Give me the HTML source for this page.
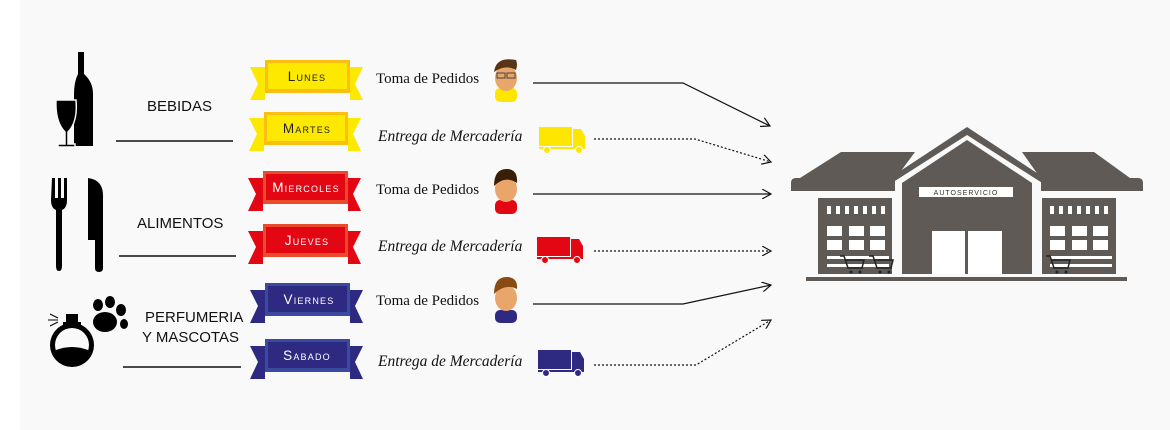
<!DOCTYPE html>
<html><head><meta charset="utf-8"><style>
body{margin:0;background:#fff}
svg{display:block}
.rt{font-family:"Liberation Sans",sans-serif;font-size:13.5px;letter-spacing:1.2px;font-variant:small-caps;text-anchor:middle}
.cat{font-family:"Liberation Sans",sans-serif;font-size:15px;fill:#111}
.sf{font-family:"Liberation Serif",serif;font-size:15px;fill:#111}
.sfi{font-family:"Liberation Serif",serif;font-size:15.5px;fill:#111;font-style:italic}
</style></head><body>
<svg width="1170" height="430" viewBox="0 0 1170 430">
<defs>
<marker id="ar" markerWidth="10" markerHeight="10" refX="9" refY="5" orient="auto" markerUnits="userSpaceOnUse"><path d="M0,0 L9,5 L0,10" fill="none" stroke="#111" stroke-width="1.2"/></marker>
</defs>
<rect x="0" y="0" width="1170" height="430" fill="#fff"/>
<rect x="20" y="0" width="1150" height="430" fill="#f8f9f8"/>

<!-- icons -->
<g fill="#000">
<path d="M78,52 h6 v22 q9,8 9,20 v52 h-19 v-52 q0,-12 4,-20z"/>
<path d="M56,100 h20 q2,22 -8,32 v12 h7 v3 h-17 v-3 h7 v-12 q-10,-10 -9,-32z" stroke="#f8f9f8" stroke-width="1.5"/>
<path d="M52,178 h3 v20 h3 v-20 h3 v20 h3 v-20 h3 v22 q0,8 -5,10 v56 q0,5 -3,5 q-3,0 -3,-5 v-56 q-5,-2 -5,-10z"/>
<path d="M88,178 q16,2 15,20 v70 q0,4 -4,4 q-4,0 -4,-4 v-28 h-7z"/>
<circle cx="72" cy="345" r="22"/><circle cx="72" cy="345" r="17" fill="#f8f9f8"/>
<path d="M56,350 q16,-6 32,0 a16,16 0 0 1 -32,0z"/>
<rect x="66" y="314" width="12" height="10"/><rect x="63" y="322" width="18" height="4"/>
<path d="M58,318 l-8,-4 M58,320 l-10,0 M58,322 l-8,4" stroke="#000" stroke-width="1"/>
<ellipse cx="105" cy="322" rx="12" ry="10"/>
<ellipse cx="98" cy="305" rx="5" ry="6"/><ellipse cx="110" cy="302" rx="5" ry="6"/><ellipse cx="121" cy="310" rx="5" ry="6"/><ellipse cx="124" cy="324" rx="4" ry="5"/>
</g>
<text class="cat" x="147" y="111">BEBIDAS</text>
<text class="cat" x="137" y="228">ALIMENTOS</text>
<text class="cat" x="145" y="322">PERFUMERIA</text>
<text class="cat" x="142" y="342">Y MASCOTAS</text>
<g stroke="#111" stroke-width="1.5">
<line x1="116" y1="141" x2="233" y2="141"/>
<line x1="119" y1="256" x2="236" y2="256"/>
<line x1="123" y1="367" x2="241" y2="367"/>
</g>

<!-- ribbons -->
<g>
<polygon points="250,67 265,67 265,100 250,100 258,84" fill="#fde900"/><polygon points="363,67 350,67 350,100 363,100 355,84" fill="#fde900"/>
<rect x="265" y="60" width="85" height="33" fill="#fbbf12"/><rect x="268" y="63" width="79" height="26" fill="#fde900"/>
<text class="rt" x="307" y="81" fill="#222">Lunes</text></g>
<g>
<polygon points="249,118 264,118 264,151 249,151 257,134" fill="#fde900"/><polygon points="361,118 348,118 348,151 361,151 353,134" fill="#fde900"/>
<rect x="264" y="112" width="84" height="33" fill="#fbbf12"/><rect x="267" y="115" width="78" height="26" fill="#fde900"/>
<text class="rt" x="307" y="133" fill="#222">Martes</text></g>
<g>
<polygon points="248,178 263,178 263,211 248,211 256,194" fill="#e30613"/><polygon points="361,178 348,178 348,211 361,211 353,194" fill="#e30613"/>
<rect x="263" y="171" width="85" height="33" fill="#e84c2c"/><rect x="266" y="174" width="79" height="26" fill="#e30613"/>
<text class="rt" x="306" y="192" fill="#fff">Miercoles</text></g>
<g>
<polygon points="248,231 263,231 263,264 248,264 256,247" fill="#e30613"/><polygon points="361,231 348,231 348,264 361,264 353,247" fill="#e30613"/>
<rect x="263" y="224" width="85" height="33" fill="#e84c2c"/><rect x="266" y="227" width="79" height="26" fill="#e30613"/>
<text class="rt" x="307" y="245" fill="#fff">Jueves</text></g>
<g>
<polygon points="250,290 265,290 265,323 250,323 258,306" fill="#2e2a82"/><polygon points="363,290 350,290 350,323 363,323 355,306" fill="#2e2a82"/>
<rect x="265" y="283" width="85" height="33" fill="#3a4aa0"/><rect x="268" y="286" width="79" height="26" fill="#2e2a82"/>
<text class="rt" x="309" y="304" fill="#fff">Viernes</text></g>
<g>
<polygon points="250,346 265,346 265,379 250,379 258,362" fill="#2e2a82"/><polygon points="363,346 350,346 350,379 363,379 355,362" fill="#2e2a82"/>
<rect x="265" y="339" width="85" height="33" fill="#3a4aa0"/><rect x="268" y="342" width="79" height="26" fill="#2e2a82"/>
<text class="rt" x="307" y="360" fill="#fff">Sabado</text></g>

<!-- middle labels -->
<text class="sf" x="376" y="83">Toma de Pedidos</text>
<text class="sfi" x="378" y="141">Entrega de Mercadería</text>
<text class="sf" x="376" y="194">Toma de Pedidos</text>
<text class="sfi" x="378" y="251">Entrega de Mercadería</text>
<text class="sf" x="376" y="305">Toma de Pedidos</text>
<text class="sfi" x="378" y="366">Entrega de Mercadería</text>

<!-- people -->
<g>
<rect x="495" y="88" width="22" height="14" rx="5" fill="#ffe600"/>
<ellipse cx="506" cy="78" rx="11" ry="13" fill="#e9a66a"/><path d="M494,72 q2,-16 22,-12 q2,4 0,10 q-10,-6 -22,2z" fill="#5a3416"/>
<rect x="497" y="73" width="8" height="5" fill="none" stroke="#444"/><rect x="507" y="73" width="8" height="5" fill="none" stroke="#444"/>
<rect x="495" y="200" width="22" height="14" rx="5" fill="#e30613"/>
<ellipse cx="506" cy="189" rx="11" ry="13" fill="#e9a66a"/><path d="M494,186 q0,-18 14,-17 q10,1 9,14 q-12,-8 -23,3z" fill="#3a1f08"/>
<rect x="495" y="310" width="22" height="13" rx="5" fill="#2e2a82"/>
<ellipse cx="506" cy="298" rx="11" ry="13" fill="#e9a66a"/><path d="M494,294 q0,-18 14,-17 q10,1 9,12 q-12,-6 -23,5z" fill="#8a4a14"/>
</g>
<!-- trucks -->
<g>
<rect x="539" y="127" width="33" height="19" fill="#ffe600"/><path d="M573,129 h8 l4,7 v11 h-12z" fill="#ffe600"/><rect x="539" y="147" width="46" height="2" fill="#ffe600"/>
<circle cx="547" cy="150" r="3.5" fill="#ffe600" stroke="#fff"/><circle cx="579" cy="150" r="3.5" fill="#ffe600" stroke="#fff"/>
<rect x="537" y="237" width="33" height="19" fill="#e30613"/><path d="M571,239 h8 l4,7 v11 h-12z" fill="#e30613"/><rect x="537" y="257" width="46" height="2" fill="#e30613"/>
<circle cx="545" cy="260" r="3.5" fill="#e30613" stroke="#fff"/><circle cx="577" cy="260" r="3.5" fill="#e30613" stroke="#fff"/>
<rect x="538" y="350" width="33" height="19" fill="#2e2a82"/><path d="M572,352 h8 l4,7 v11 h-12z" fill="#2e2a82"/><rect x="538" y="370" width="46" height="2" fill="#2e2a82"/>
<circle cx="546" cy="373" r="3.5" fill="#2e2a82" stroke="#fff"/><circle cx="578" cy="373" r="3.5" fill="#2e2a82" stroke="#fff"/>
</g>

<!-- connectors -->
<g fill="none" stroke="#111" stroke-width="1.2">
<polyline points="533,83 683,83 770,126" marker-end="url(#ar)"/>
<polyline points="594,139 695,139 771,162" stroke-dasharray="2,2" marker-end="url(#ar)"/>
<polyline points="533,194 771,194" marker-end="url(#ar)"/>
<polyline points="594,251 771,251" stroke-dasharray="2,2" marker-end="url(#ar)"/>
<polyline points="533,304 683,304 771,285" marker-end="url(#ar)"/>
<polyline points="594,365 696,365 771,320" stroke-dasharray="2,2" marker-end="url(#ar)"/>
</g>

<!-- building -->
<g fill="#5f5a56">
<path d="M841,152 h74 l-20,27 v12 h-104 v-8 q0,-5 5,-5 h4z"/>
<path d="M1022,152 h72 l36,26 h8 q5,0 5,5 v8 h-102 v-12z"/>
<polygon points="885,181 967,127 1049,181 1047,186 967,135 887,186"/>
<polygon points="902,183 967,140 1032,183 1032,274 902,274"/>
<rect x="818" y="198" width="74" height="76"/>
<rect x="1042" y="198" width="74" height="76"/>
<rect x="806" y="277" width="321" height="4"/>
</g>
<rect x="919" y="187" width="94" height="10" fill="#fff"/>
<text x="966" y="195" font-family="Liberation Sans,sans-serif" font-size="7" letter-spacing="1" text-anchor="middle" fill="#333">AUTOSERVICIO</text>
<rect x="932" y="231" width="33" height="43" fill="#fff"/><rect x="968" y="231" width="34" height="43" fill="#fff"/>
<g fill="#fff">
<rect x="827" y="206" width="4" height="8"/><rect x="836" y="206" width="4" height="8"/><rect x="845" y="206" width="4" height="8"/><rect x="854" y="206" width="4" height="8"/><rect x="863" y="206" width="4" height="8"/><rect x="872" y="206" width="4" height="8"/><rect x="881" y="206" width="4" height="8"/>
<rect x="827" y="226" width="15" height="10"/><rect x="849" y="226" width="15" height="10"/><rect x="870" y="226" width="15" height="10"/>
<rect x="827" y="240" width="15" height="10"/><rect x="849" y="240" width="15" height="10"/><rect x="870" y="240" width="15" height="10"/>
<rect x="827" y="256" width="62" height="3"/><rect x="827" y="264" width="62" height="3"/>
<rect x="1050" y="206" width="4" height="8"/><rect x="1059" y="206" width="4" height="8"/><rect x="1068" y="206" width="4" height="8"/><rect x="1077" y="206" width="4" height="8"/><rect x="1086" y="206" width="4" height="8"/><rect x="1095" y="206" width="4" height="8"/><rect x="1104" y="206" width="4" height="8"/>
<rect x="1050" y="226" width="15" height="10"/><rect x="1072" y="226" width="15" height="10"/><rect x="1093" y="226" width="15" height="10"/>
<rect x="1050" y="240" width="15" height="10"/><rect x="1072" y="240" width="15" height="10"/><rect x="1093" y="240" width="15" height="10"/>
<rect x="1050" y="256" width="62" height="3"/><rect x="1050" y="264" width="62" height="3"/>
</g>
<g fill="none" stroke="#222" stroke-width="1.5">
<path d="M840,256 h4 l4,12 h14 l2,-8 h-18"/><path d="M869,256 h4 l4,12 h14 l2,-8 h-18"/><path d="M1046,256 h4 l4,12 h14 l2,-8 h-18"/>
</g>
<g fill="#222"><circle cx="851" cy="272" r="1.5"/><circle cx="860" cy="272" r="1.5"/><circle cx="880" cy="272" r="1.5"/><circle cx="889" cy="272" r="1.5"/><circle cx="1057" cy="272" r="1.5"/><circle cx="1066" cy="272" r="1.5"/></g>
</svg>
</body></html>
